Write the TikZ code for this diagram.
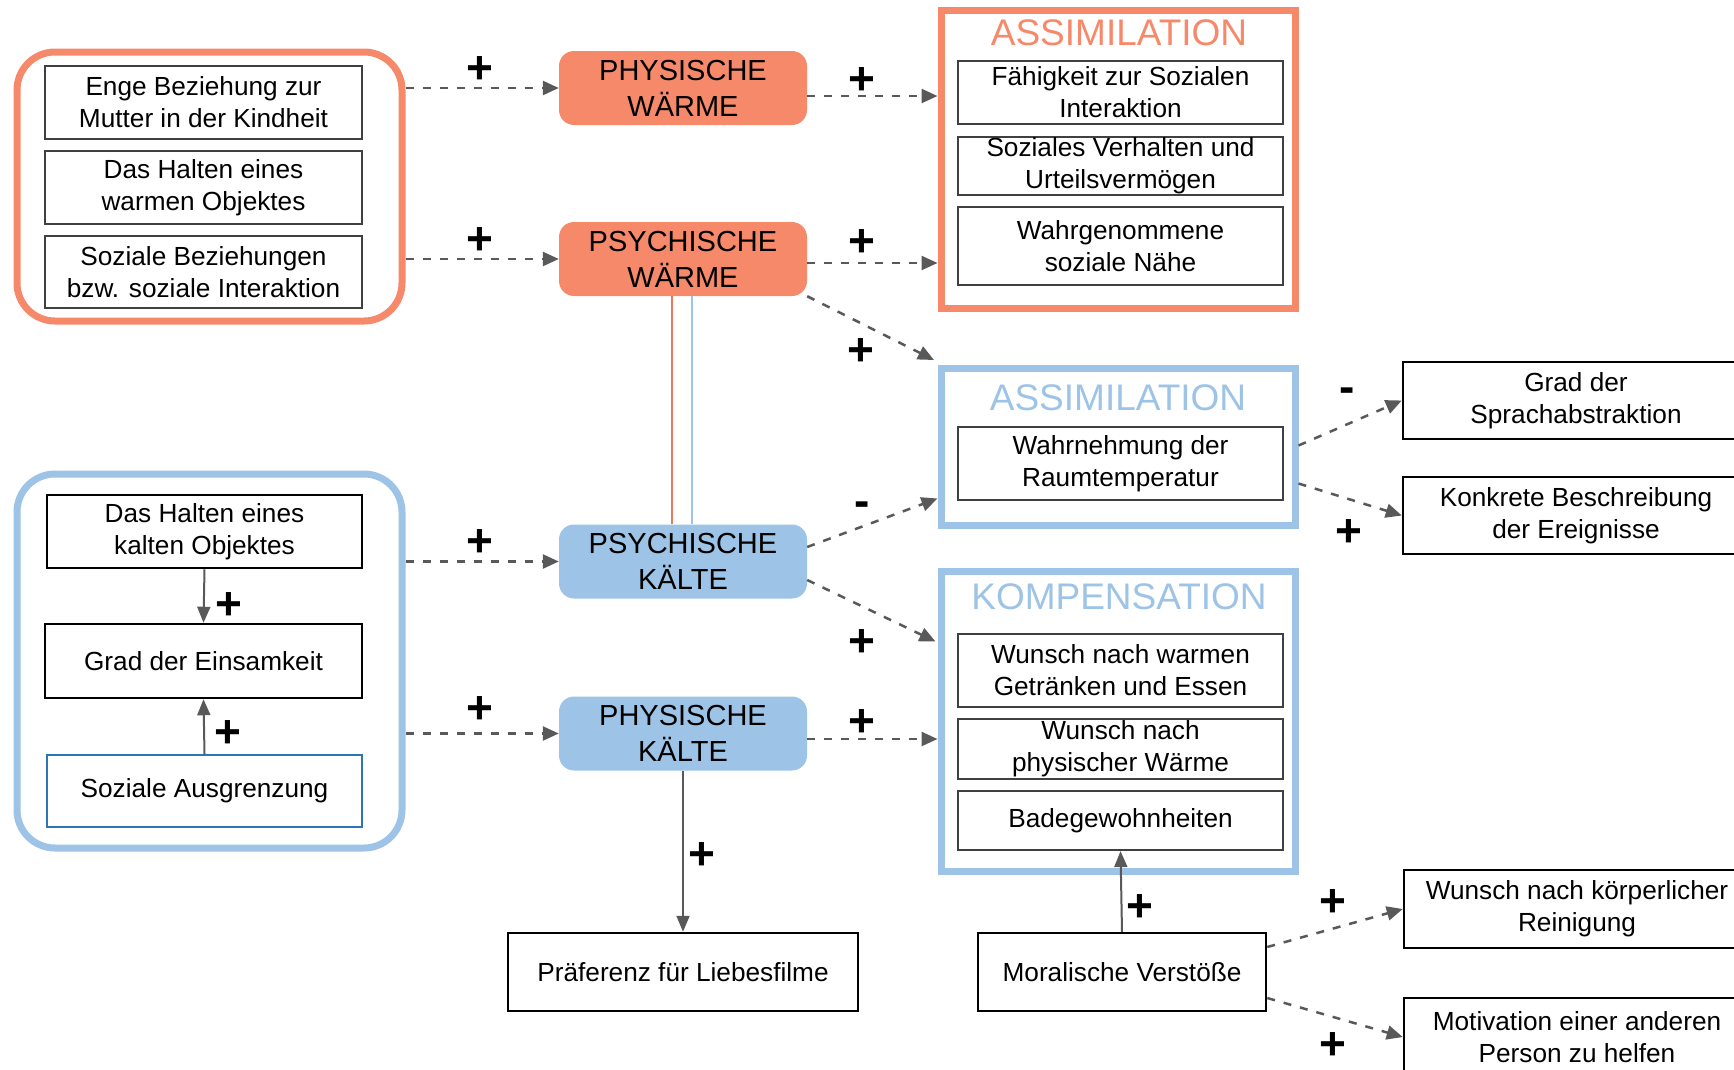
\documentclass[tikz,border=0pt]{standalone}
\usepackage{fontspec}
\setmainfont{Liberation Sans}
\usetikzlibrary{arrows.meta}
\definecolor{warm}{RGB}{247,137,107}
\definecolor{warmline}{RGB}{233,120,92}
\definecolor{cold}{RGB}{157,195,230}
\definecolor{arrowgrey}{RGB}{89,89,89}
\definecolor{boxgrey}{RGB}{64,64,64}
\definecolor{outblue}{RGB}{46,117,182}

\begin{document}
\begin{tikzpicture}[x=1pt,y=-1pt,
  every node/.style={inner sep=0pt, align=center},
  itembox/.style={draw=boxgrey, line width=2.2pt, font=\fontsize{26.2}{32}\selectfont},
  blackbox/.style={itembox, draw=black, line width=2.5pt},
  statebox/.style={fill=#1, rounded corners=15pt, minimum width=248pt, minimum height=74pt,
    font=\fontsize{29}{36}\selectfont},
  groupframe/.style={draw=#1, line width=7pt},
  frametitle/.style={text=#1, font=\fontsize{37}{40}\selectfont},
  sign/.style={font=\fontsize{46}{46}\selectfont\bfseries},
  dasharrow/.style={draw=arrowgrey, line width=2.5pt, dash pattern=on 8pt off 9pt,
    -{Triangle[length=16pt,width=14pt]}},
  solidarrow/.style={draw=arrowgrey, line width=2pt, -{Triangle[length=16pt,width=13pt]}}
]
\useasboundingbox (0,0) rectangle (1734,1069);
\clip (0,0) rectangle (1734,1069);

% ---- warm sources ----
\node[groupframe=warm, rounded corners=38pt, minimum width=385pt, minimum height=269pt] (grpW) at (209.5,186.5) {};
\node[itembox, minimum width=317pt, minimum height=73pt] (enge) at (203.5,102.5) {Enge Beziehung zur\\Mutter in der Kindheit};
\node[itembox, minimum width=317pt, minimum height=73pt] (haltW) at (203.5,187.5) {Das Halten eines\\warmen Objektes};
\node[itembox, minimum width=317pt, minimum height=72pt] (sozB) at (203.5,272) {Soziale Beziehungen\\bzw. soziale Interaktion};

% ---- cold sources ----
\node[groupframe=cold, rounded corners=38pt, minimum width=385pt, minimum height=374pt] (grpK) at (209.5,661) {};
\node[blackbox, minimum width=315pt, minimum height=73pt] (haltK) at (204.5,531.5) {Das Halten eines\\kalten Objektes};
\node[blackbox, minimum width=317pt, minimum height=74pt] (einsam) at (203.5,661) {Grad der Einsamkeit};
\node[itembox, draw=outblue, minimum width=315pt, minimum height=72pt] (ausgr) at (204.5,791) {Soziale Ausgrenzung};

% ---- warmth / coldness states ----
\node[statebox=warm] (phyW) at (683,88) {PHYSISCHE\\WÄRME};
\node[statebox=warm] (psyW) at (683,259) {PSYCHISCHE\\WÄRME};
\node[statebox=cold] (psyK) at (683,561.5) {PSYCHISCHE\\KÄLTE};
\node[statebox=cold] (phyK) at (683,733.5) {PHYSISCHE\\KÄLTE};

% ---- assimilation (warm) ----
\node[groupframe=warm, minimum width=354pt, minimum height=298pt] (assimW) at (1118,159) {};
\node[frametitle=warm] (tAW) at (1119,33) {ASSIMILATION};
\node[itembox, minimum width=325pt, minimum height=63pt] (faehig) at (1120.5,92.5) {Fähigkeit zur Sozialen\\Interaktion};
\node[itembox, minimum width=325pt, minimum height=58pt] (sozV) at (1120.5,166) {Soziales Verhalten und\\Urteilsvermögen};
\node[itembox, minimum width=325pt, minimum height=78pt] (wahrg) at (1120.5,246) {Wahrgenommene\\soziale Nähe};

% ---- assimilation (cold) ----
\node[groupframe=cold, minimum width=354pt, minimum height=157pt] (assimK) at (1118,446.5) {};
\node[frametitle=cold] (tAK) at (1118,398) {ASSIMILATION};
\node[itembox, minimum width=325pt, minimum height=73pt] (wahrn) at (1120.5,463.5) {Wahrnehmung der\\Raumtemperatur};

% ---- compensation ----
\node[groupframe=cold, minimum width=354pt, minimum height=300pt] (komp) at (1118,721) {};
\node[frametitle=cold] (tK) at (1119,597) {KOMPENSATION};
\node[itembox, minimum width=325pt, minimum height=73pt] (wWarm) at (1120.5,670.5) {Wunsch nach warmen\\Getränken und Essen};
\node[itembox, minimum width=325pt, minimum height=60pt] (wPhys) at (1120.5,749) {Wunsch nach\\physischer Wärme};
\node[itembox, minimum width=325pt, minimum height=59pt] (bade) at (1120.5,820.5) {Badegewohnheiten};

% ---- outcomes ----
\node[blackbox, minimum width=350pt, minimum height=78pt] (praef) at (683,972) {Präferenz für Liebesfilme};
\node[blackbox, minimum width=288pt, minimum height=78pt] (moral) at (1122,972) {Moralische Verstöße};
\node[blackbox, minimum width=346pt, minimum height=77pt] (sprach) at (1576,400.5) {Grad der\\Sprachabstraktion};
\node[blackbox, minimum width=346pt, minimum height=77pt] (konk) at (1576,515.5) {Konkrete Beschreibung\\der Ereignisse};
\node[blackbox, minimum width=346pt, minimum height=78pt] (wKoerp) at (1577,909) {Wunsch nach körperlicher\\Reinigung};
\node[blackbox, minimum width=346pt, minimum height=78pt] (motiv) at (1577,1037) {Motivation einer anderen\\Person zu helfen};

% ---- link between psychic warmth and coldness ----
\draw[warmline, line width=2pt] ([xshift=-11pt]psyW.south) -- ([xshift=-11pt]psyK.north);
\draw[cold, line width=2pt] ([xshift=9pt]psyW.south) -- ([xshift=9pt]psyK.north);

% ---- connectors ----
\draw[dasharrow] (grpW.east |- phyW.west) -- (phyW.west);
\draw[dasharrow] (grpW.east |- psyW.west) -- (psyW.west);
\draw[dasharrow] (grpK.east |- psyK.west) -- (psyK.west);
\draw[dasharrow] (grpK.east |- phyK.west) -- (phyK.west);

\draw[dasharrow] ([yshift=-8pt]phyW.east) -- ([yshift=-8pt]phyW.east -| assimW.west);
\draw[dasharrow] ([yshift=-4pt]psyW.east) -- ([yshift=-4pt]psyW.east -| assimW.west);
\draw[dasharrow] (psyW.south east) -- ([shift={(-3.5pt,4.5pt)}]assimK.north west);
\draw[dasharrow] ([yshift=14.5pt]psyK.east) -- ([yshift=30pt]assimK.south west);
\draw[dasharrow] ([yshift=-18.5pt]psyK.east) -- ([shift={(-2pt,-74pt)}]komp.north west);
\draw[dasharrow] ([yshift=-5.5pt]phyK.east) -- ([yshift=-5.5pt]phyK.east -| komp.west);

\draw[dasharrow] ([yshift=18pt]wahrn.east -| assimK.east) -- (sprach.west);
\draw[dasharrow] ([yshift=-20pt]wahrn.east -| assimK.east) -- (konk.west);
\draw[dasharrow] ([yshift=25pt]moral.east) -- (wKoerp.west);
\draw[dasharrow] ([yshift=-26pt]moral.east) -- (motiv.west);

\draw[solidarrow] (haltK.south) -- (einsam.north);
\draw[solidarrow] (ausgr.north) -- (einsam.south);
\draw[solidarrow] (phyK.south) -- (praef.north);
\draw[solidarrow] (moral.north) -- (bade.south);

% ---- signs ----
\node[sign] (s1) at (480,70) {+};
\node[sign] (s2) at (480,241) {+};
\node[sign] (s3) at (862,81) {+};
\node[sign] (s4) at (862,243) {+};
\node[sign] (s5) at (861,352) {+};
\node[sign] (s6) at (480,543) {+};
\node[sign] (s7) at (480,710) {+};
\node[sign] (s8) at (229,606) {+};
\node[sign] (s9) at (228,734) {+};
\node[sign] (s10) at (862,643) {+};
\node[sign] (s11) at (862,723) {+};
\node[sign] (s12) at (702,856) {+};
\node[sign] (s13) at (1140,908) {+};
\node[sign] (s14) at (1349,533) {+};
\node[sign] (s15) at (1333,903) {+};
\node[sign] (s16) at (1333,1046) {+};
\node[sign] (m1) at (862,509.5) {-};
\node[sign] (m2) at (1347,395) {-};
\end{tikzpicture}
\end{document}
